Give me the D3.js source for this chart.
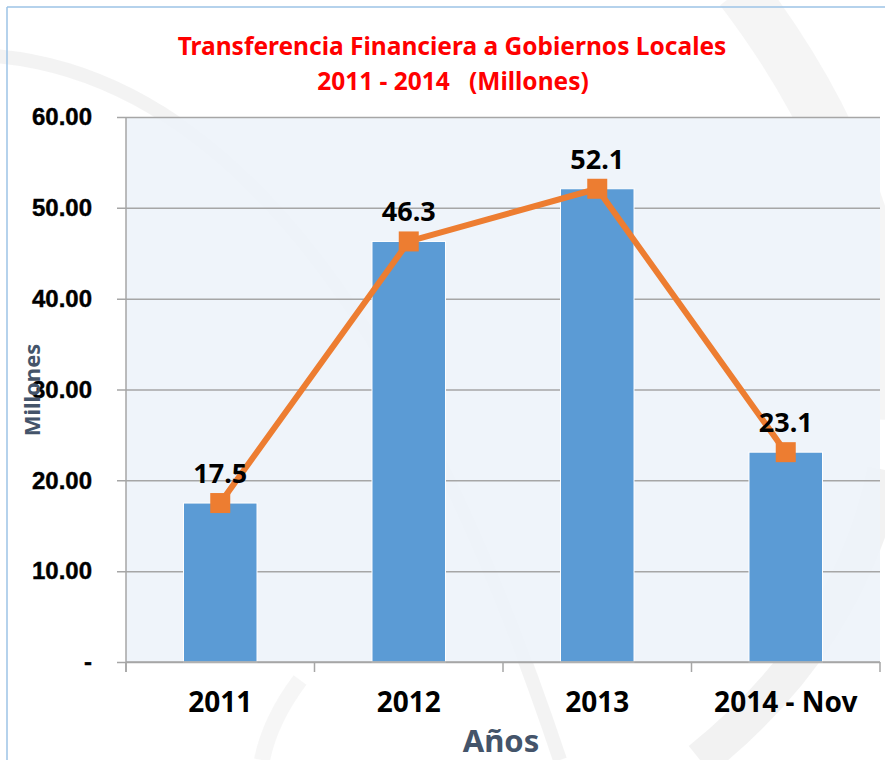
<!DOCTYPE html>
<html lang="es">
<head>
<meta charset="UTF-8">
<title>Transferencia Financiera a Gobiernos Locales</title>
<script src="https://cdn.jsdelivr.net/npm/d3@7/dist/d3.min.js"></script>
<style>
  body { margin: 0; background: #fff; }
  svg { display: block; font-family: "Noto Sans", "DejaVu Sans", sans-serif; }
</style>
</head>
<body>
<script>
// datos
var years = ["2011", "2012", "2013", "2014 - Nov"];
var values = [17.5, 46.3, 52.1, 23.1];
var yTicks = [0, 10, 20, 30, 40, 50, 60];

var width = 885, height = 760;
var margin = { left: 126, right: 5, top: 117, bottom: 98 };

var svg = d3.select("body").append("svg")
    .attr("width", width)
    .attr("height", height);

// fondo decorativo (arcos grises suaves)
var deco = svg.append("g").attr("fill", "none");
deco.append("path")
    .attr("d", "M -20 55 Q 330 70 560 760")
    .attr("stroke", "#e4e4e4").attr("stroke-width", 14).attr("opacity", 0.45);
deco.append("path")
    .attr("d", "M 740 -10 Q 900 200 890 420")
    .attr("stroke", "#ececec").attr("stroke-width", 50).attr("opacity", 0.5);
deco.append("path")
    .attr("d", "M 885 470 Q 850 640 700 760")
    .attr("stroke", "#e2e2e2").attr("stroke-width", 36).attr("opacity", 0.45);
deco.append("path")
    .attr("d", "M 300 680 Q 270 720 262 760")
    .attr("stroke", "#eeeeee").attr("stroke-width", 16).attr("opacity", 0.5);

// marco
svg.append("line").attr("x1", 7).attr("x2", width).attr("y1", 7).attr("y2", 7)
    .attr("stroke", "#9dc3e6").attr("stroke-width", 1.5);
svg.append("line").attr("x1", 7).attr("x2", 7).attr("y1", 7).attr("y2", height)
    .attr("stroke", "#9dc3e6").attr("stroke-width", 1.5);

var x = d3.scaleBand()
    .domain(years)
    .range([margin.left, width - margin.right])
    .paddingInner(0.61)
    .paddingOuter(0.305);

var y = d3.scaleLinear()
    .domain([0, 60])
    .range([height - margin.bottom, margin.top]);

// area del grafico
svg.append("rect")
    .attr("x", margin.left).attr("y", margin.top)
    .attr("width", width - margin.right - margin.left)
    .attr("height", y(0) - margin.top)
    .attr("fill", "#eef3fa").attr("opacity", 0.92);

// eje y con lineas de grilla
var yAxis = d3.axisLeft(y)
    .tickValues(yTicks)
    .tickSize(-(width - margin.right - margin.left))
    .tickPadding(34)
    .tickFormat(function(d) { return d === 0 ? "-" : d3.format(".2f")(d); });

var gy = svg.append("g")
    .attr("transform", "translate(" + margin.left + ",0)")
    .call(yAxis);
gy.select(".domain").remove();
gy.selectAll(".tick line").attr("stroke", "#a6a6a6").attr("stroke-width", 1.5)
    .attr("x1", -9);
gy.selectAll(".tick text")
    .attr("fill", "#000").attr("font-size", 24).attr("font-weight", "bold")
    .attr("stroke", "#000").attr("stroke-width", 0.4);
svg.append("line")
    .attr("x1", margin.left).attr("x2", margin.left)
    .attr("y1", margin.top).attr("y2", y(0) + 10)
    .attr("stroke", "#a6a6a6").attr("stroke-width", 1.5);

// barras
svg.selectAll(".bar")
    .data(values)
    .enter().append("rect")
    .attr("class", "bar")
    .attr("x", function(d, i) { return x(years[i]); })
    .attr("y", function(d) { return y(d); })
    .attr("width", x.bandwidth())
    .attr("height", function(d) { return y(0) - y(d); })
    .attr("fill", "#5b9bd5")
    .attr("stroke", "#fff").attr("stroke-width", 1);

// eje x
var gx = svg.append("g")
    .attr("transform", "translate(0," + y(0) + ")");
gx.append("line")
    .attr("x1", margin.left).attr("x2", width - margin.right)
    .attr("stroke", "#a6a6a6").attr("stroke-width", 1.5);
var bounds = years.map(function(d) { return x(d) - x.step() * x.paddingInner() / 2; })
    .concat([width - margin.right]);
gx.selectAll(".xt").data(bounds).enter().append("line")
    .attr("x1", function(d) { return d; }).attr("x2", function(d) { return d; })
    .attr("y1", 0).attr("y2", 10)
    .attr("stroke", "#a6a6a6").attr("stroke-width", 1.5);
gx.selectAll(".xl").data(years).enter().append("text")
    .attr("x", function(d) { return x(d) + x.bandwidth() / 2; })
    .attr("y", 50)
    .attr("text-anchor", "middle")
    .attr("font-size", 28).attr("font-weight", "bold")
    .text(function(d) { return d; });

// linea
var line = d3.line()
    .x(function(d, i) { return x(years[i]) + x.bandwidth() / 2; })
    .y(function(d) { return y(d); });

svg.append("path")
    .datum(values)
    .attr("d", line)
    .attr("fill", "none")
    .attr("stroke", "#ed7d31")
    .attr("stroke-width", 6)
    .attr("stroke-linejoin", "round");

svg.selectAll(".mk")
    .data(values)
    .enter().append("rect")
    .attr("x", function(d, i) { return x(years[i]) + x.bandwidth() / 2 - 10; })
    .attr("y", function(d) { return y(d) - 10; })
    .attr("width", 20).attr("height", 20)
    .attr("fill", "#ed7d31");

// etiquetas de datos
svg.selectAll(".lbl")
    .data(values)
    .enter().append("text")
    .attr("x", function(d, i) { return x(years[i]) + x.bandwidth() / 2; })
    .attr("y", function(d) { return y(d) - 20; })
    .attr("text-anchor", "middle")
    .attr("font-size", 27).attr("font-weight", "bold")
    .attr("fill", "#000")
    .text(function(d) { return d3.format(".1f")(d); });

// titulos
var title = svg.append("text")
    .attr("text-anchor", "middle")
    .attr("fill", "#ff0000")
    .attr("font-size", 24.5).attr("font-weight", "bold");
title.append("tspan").attr("x", 452).attr("y", 55)
    .text("Transferencia Financiera a Gobiernos Locales");
title.append("tspan").attr("x", 453).attr("y", 90)
    .attr("xml:space", "preserve")
    .text("2011 - 2014   (Millones)");

svg.append("text")
    .attr("x", 501).attr("y", 752)
    .attr("text-anchor", "middle")
    .attr("fill", "#44546a")
    .attr("font-size", 31).attr("font-weight", "bold")
    .text("Años");

svg.append("text")
    .attr("transform", "translate(40,390) rotate(-90)")
    .attr("text-anchor", "middle")
    .attr("fill", "#44546a")
    .attr("font-size", 22).attr("font-weight", "bold")
    .text("Millones");
</script>
</body>
</html>
